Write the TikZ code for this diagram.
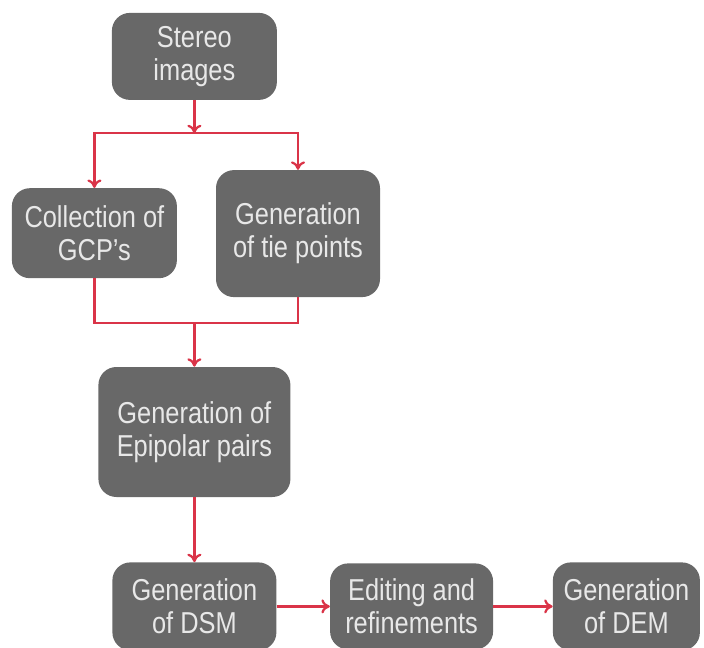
\documentclass[tikz,border=0pt]{standalone}
\usepackage{fontspec}
\setmainfont[FakeStretch=0.84]{Liberation Sans}
\usepackage{xcolor}
\usepackage{tikz}
\usetikzlibrary{arrows.meta}
\definecolor{boxgray}{RGB}{104,104,104}
\definecolor{boxtext}{RGB}{232,232,232}
\definecolor{flowred}{RGB}{218,52,72}
\tikzset{stepbox/.style={draw=none, fill=boxgray, rounded corners=0.45cm, align=center,
    text=boxtext, inner sep=0pt, font=\fontsize{21.5}{23.5}\selectfont}}
\tikzset{flow/.style={draw=flowred, line width=1.6pt, -{To[length=6pt,width=10pt]}}}

\begin{document}
\begin{tikzpicture}
  \useasboundingbox (0,0) rectangle (17.6,-16.2);
  % Nodes
  \node[stepbox, minimum width=4.125cm, minimum height=2.175cm] (stereo) at (4.86,-1.41)
    {Stereo\\images};

  \node[stepbox, minimum width=4.125cm, minimum height=2.25cm] (gcp) at (2.36,-5.83)
    {Collection of\\GCP's};

  \node[stepbox, minimum width=4.1cm, minimum height=3.175cm] (tie) at (7.45,-5.84)
    {Generation\\of tie points};

  \node[stepbox, minimum width=4.8cm, minimum height=3.25cm] (epi) at (4.86,-10.8)
    {Generation of\\Epipolar pairs};

  \node[stepbox, minimum width=4.1cm, minimum height=2.2cm] (dsm) at (4.86,-15.16)
    {Generation\\of DSM};

  \node[stepbox, minimum width=4.075cm, minimum height=2.15cm] (edit) at (10.29,-15.16)
    {Editing and\\refinements};

  \node[stepbox, minimum width=3.675cm, minimum height=2.2cm] (dem) at (15.66,-15.16)
    {Generation\\of DEM};

  % Branch points
  \coordinate (split) at (4.86,-3.33);
  \coordinate (join) at (4.86,-8.07);

  % Main flow
  \draw[flow] (stereo.south) -- (split);
  \draw[flow] (split) -| (gcp.north);
  \draw[flow] (split) -| (tie.north);
  \draw[draw=flowred, line width=1.6pt] (gcp.south) |- (join) -| (tie.south);
  \draw[flow] (join) -- (epi.north);
  \draw[flow] (epi.south) -- (dsm.north);
  \draw[flow] (dsm.east) -- (edit.west);
  \draw[flow] (edit.east) -- (dem.west);
\end{tikzpicture}
\end{document}
